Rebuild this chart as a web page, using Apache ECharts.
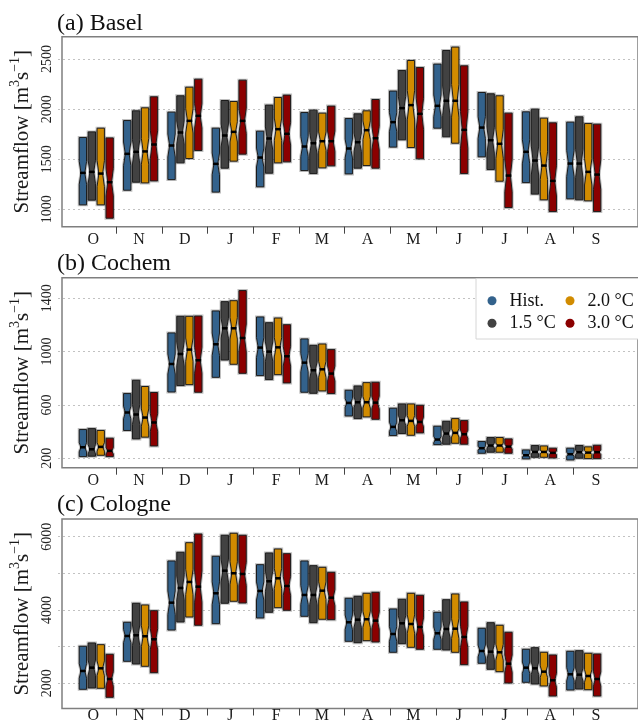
<!DOCTYPE html>
<html><head><meta charset="utf-8">
<script src="https://cdn.jsdelivr.net/npm/echarts@6/dist/echarts.min.js"></script>
<style>html,body{margin:0;padding:0;background:#fff}#c{width:638px;height:724px}</style>
</head><body><div id="c"></div>
<script>
const months = ['O','N','D','J','F','M','A','M','J','J','A','S'];
const scenarios = ['Hist.','1.5 °C','2.0 °C','3.0 °C'];
const colors = ['#33628c','#424242','#d18b00','#8b0000'];
const panelTitles = ['(a) Basel','(b) Cochem','(c) Cologne'];
const yName = 'Streamflow [m{sup|3}s{sup|−1}]';

// each entry: [low, median, high] per month (O..S)
const baselHist = [[1045,1364,1717],[1191,1554,1886],[1297,1637,1970],[1172,1454,1810],[1225,1517,1780],[1387,1627,1966],[1354,1607,1906],[1621,1870,2180],[1810,2033,2449],[1524,1816,2166],[1267,1574,1973],[1105,1457,1870]];
const basel15 = [[1092,1374,1773],[1271,1574,1983],[1464,1767,2133],[1411,1737,2086],[1361,1707,2040],[1357,1660,1990],[1411,1670,1953],[1694,2010,2385],[1724,2083,2585],[1397,1690,2153],[1152,1487,2000],[1095,1457,1923]];
const basel20 = [[1045,1357,1810],[1264,1578,2013],[1507,1883,2219],[1481,1773,2076],[1464,1800,2116],[1414,1680,1960],[1437,1790,1983],[1617,2040,2485],[1660,2083,2619],[1281,1654,2133],[1095,1437,1910],[1085,1374,1856]];
const basel30 = [[912,1271,1713],[1284,1647,2123],[1587,1933,2299],[1551,1883,2289],[1474,1754,2140],[1434,1680,2030],[1411,1710,2096],[1504,1953,2415],[1357,1793,2432],[1018,1337,1960],[978,1284,1863],[978,1347,1850]];

const cochemHist = [[212,282,415],[408,543,685],[697,907,1140],[807,1055,1305],[820,1030,1260],[695,917,1095],[517,615,710],[370,435,575],[302,340,440],[237,275,325],[195,222,262],[187,230,275]];
const cochem15 = [[215,267,422],[345,528,785],[745,982,1265],[937,1175,1375],[790,1000,1217],[687,860,1047],[497,620,742],[385,485,607],[305,385,477],[245,295,355],[207,247,295],[200,245,295]];
const cochem20 = [[222,285,408],[358,505,738],[752,1015,1265],[905,1175,1382],[827,1032,1252],[705,867,1057],[510,620,767],[372,480,607],[312,390,497],[245,295,355],[207,247,292],[197,242,285]];
const cochem30 = [[212,255,350],[292,468,693],[695,935,1267],[837,1102,1458],[765,965,1202],[685,835,1015],[492,617,770],[390,472,597],[305,380,482],[237,287,345],[202,240,275],[197,245,297]];

const cologneHist = [[1836,2336,3010],[2600,3291,3665],[3454,4200,5337],[3627,4456,5466],[3782,4519,5237],[3828,4410,5337],[3146,3665,4320],[2846,3345,4028],[2928,3365,3937],[2546,2881,3501],[2027,2426,2928],[1817,2246,2873]];
const cologne15 = [[1872,2426,3100],[2527,3310,4183],[3673,4601,5575],[4183,5073,6039],[3937,4784,5556],[3654,4410,5210],[3108,3736,4374],[3081,3637,4292],[2909,3482,4281],[2382,2862,3654],[1981,2409,2972],[1844,2235,2890]];
const cologne20 = [[1864,2409,3054],[2464,3283,4137],[3809,4765,5837],[4238,5002,6094],[4063,4865,5665],[3747,4527,5165],[3163,3747,4456],[2982,3618,4456],[2846,3490,4437],[2317,2846,3583],[1927,2317,2846],[1825,2199,2819]];
const cologne30 = [[1618,2117,2791],[2289,3201,3981],[3583,4637,6074],[4191,4983,6039],[3992,4655,5537],[3736,4336,5029],[3127,3708,4483],[2928,3536,4401],[2508,3264,4219],[2008,2535,3392],[1653,2082,2772],[1653,2117,2800]];

// y-axis ranges and tick labels
const yRanges = [[827, 2722.6], [128.7, 1554.6], [1312, 6483]];
const yTicks = [[1000, 2500, 500], [200, 1400, 400], [2000, 6000, 1000]];
const yLabelEvery = [500, 400, 2000];

const panelData = [
  [baselHist, basel15, basel20, basel30],
  [cochemHist, cochem15, cochem20, cochem30],
  [cologneHist, cologne15, cologne20, cologne30]
];

// ---- layout (pixels) ----
const FONT = 'Liberation Serif';
const frames = [[36.7, 226.7], [277.7, 467.7], [519, 708.5]];
const titleTops = [11.6, 251.6, 492.4];
const bandLeft = 70.5, bandW = 45.7, frameLeft = 58, frameRight = 652;
const xmin = (frameLeft - bandLeft) / bandW - 0.5;
const xmax = (frameRight - bandLeft) / bandW - 0.5;
const slotOff = [-1.5, -0.5, 0.5, 1.5].map(k => k * 0.2013);
const boxW = 0.165;

function makeRender(si) {
  return function (params, api) {
    const m = api.value(0);
    const x = m + slotOff[si];
    const pTop = api.coord([x, api.value(3)]);
    const pMed = api.coord([x, api.value(2)]);
    const pBot = api.coord([x, api.value(1)]);
    const w = api.size([boxW, 0])[0];
    const cx = pTop[0], xl = cx - w / 2, xr = cx + w / 2;
    const h = pBot[1] - pTop[1];
    const nh = h * 0.17;
    const nw = w * 0.26;
    const ym = pMed[1];
    const pts = [[xl, pTop[1]], [xr, pTop[1]], [xr, ym - nh], [cx + nw, ym], [xr, ym + nh], [xr, pBot[1]],
                 [xl, pBot[1]], [xl, ym + nh], [cx - nw, ym], [xl, ym - nh]];
    return { type: 'group', children: [
      { type: 'polygon', shape: { points: pts }, style: { fill: 'none', stroke: 'rgba(0,0,0,0.25)', lineWidth: 3 } },
      { type: 'polygon', shape: { points: pts }, style: { fill: api.visual('color'), stroke: '#1c1c1c', lineWidth: 1 } },
      { type: 'line', shape: { x1: cx - nw - 1, y1: ym, x2: cx + nw + 1, y2: ym }, style: { stroke: '#000', lineWidth: 2.5 } }
    ]};
  };
}

const grid = [], xAxis = [], yAxis = [], series = [], title = [];
for (let p = 0; p < 3; p++) {
  const [top, bottom] = frames[p];
  const H = bottom - top;
  const [ymin, ymax] = yRanges[p];
  const [lmin, lmax, step] = yTicks[p];
  const ypix = v => top + (ymax - v) / (ymax - ymin) * H;
  const b = p * 4;
  grid.push({ left: frameLeft, top: top, width: frameRight - frameLeft, height: H, show: true,
              borderColor: '#7f7f7f', borderWidth: 1.5, backgroundColor: 'transparent' });
  grid.push({ left: frameLeft, top: ypix(lmax), width: frameRight - frameLeft, height: ypix(lmin) - ypix(lmax) });
  grid.push({ left: bandLeft, top: top, width: 12 * bandW, height: H });
  grid.push({ left: bandLeft + bandW, top: top, width: 10 * bandW, height: H });

  xAxis.push({ gridIndex: b, type: 'value', min: xmin, max: xmax, show: false });
  xAxis.push({ gridIndex: b + 1, type: 'value', min: 0, max: 1, show: false });
  xAxis.push({ gridIndex: b + 2, type: 'category', data: months, position: 'bottom',
               axisLine: { show: false }, axisTick: { show: false },
               axisLabel: { interval: 0, fontFamily: FONT, fontSize: 16, color: '#1a1a1a', margin: 5 } });
  xAxis.push({ gridIndex: b + 3, type: 'value', min: 0, max: 10, interval: 1, position: 'bottom',
               axisLine: { show: false }, axisLabel: { show: false }, splitLine: { show: false },
               axisTick: { show: true, length: 7, lineStyle: { color: '#444', width: 1 } } });

  yAxis.push({ gridIndex: b, type: 'value', min: ymin, max: ymax,
               axisLine: { show: false }, axisTick: { show: false }, axisLabel: { show: false }, splitLine: { show: false },
               name: yName, nameLocation: 'middle', nameRotate: 90, nameGap: 26,
               nameTextStyle: { fontFamily: FONT, fontSize: 21, color: '#1a1a1a', lineHeight: 28,
                 rich: { sup: { fontFamily: FONT, fontSize: 14, lineHeight: 14, verticalAlign: 'top', color: '#1a1a1a' } } } });
  const every = yLabelEvery[p];
  yAxis.push({ gridIndex: b + 1, type: 'value', min: lmin, max: lmax, interval: step,
               axisLine: { show: false }, axisTick: { show: false },
               axisLabel: { rotate: 90, fontFamily: FONT, fontSize: 14, color: '#222', margin: 4,
                            formatter: v => (Math.round(v - lmin) % every === 0 ? String(v) : '') },
               splitLine: { show: true, lineStyle: { color: '#c2c2c2', type: [2, 3], width: 1 } } });
  yAxis.push({ gridIndex: b + 2, type: 'value', show: false });
  yAxis.push({ gridIndex: b + 3, type: 'value', show: false });

  title.push({ text: panelTitles[p], left: 57, top: titleTops[p], padding: 0,
               textStyle: { fontFamily: FONT, fontSize: 24, fontWeight: 'normal', color: '#111' } });

  for (let s = 0; s < 4; s++) {
    series.push({
      type: 'custom', name: scenarios[s], xAxisIndex: b, yAxisIndex: b,
      itemStyle: { color: colors[s] },
      renderItem: makeRender(s),
      encode: { x: 0, y: [1, 2, 3] },
      data: panelData[p][s].map((t, i) => [i, t[0], t[1], t[2]]),
      z: 5
    });
  }
}

const legendCommon = { orient: 'vertical', top: 291.8, itemWidth: 25, itemHeight: 9, itemGap: 4.4, icon: 'circle',
  padding: 0, selectedMode: false, z: 101,
  textStyle: { fontFamily: FONT, fontSize: 18, color: '#111', padding: 0 } };

const option = {
  animation: false,
  backgroundColor: '#fff',
  title: title,
  grid: grid, xAxis: xAxis, yAxis: yAxis, series: series,
  legend: [
    Object.assign({}, legendCommon, { left: 487.5, data: ['Hist.', '1.5 °C'] }),
    Object.assign({}, legendCommon, { left: 565.5, data: ['2.0 °C', '3.0 °C'] })
  ],
  graphic: [{ type: 'rect', z: 100, shape: { x: 476, y: 278.5, width: 200, height: 60.5 },
              style: { fill: '#fff', stroke: '#d6d6d6', lineWidth: 1 } }]
};
const chart = echarts.init(document.getElementById('c'), null, { renderer: 'canvas' });
chart.setOption(option);
</script></body></html>
